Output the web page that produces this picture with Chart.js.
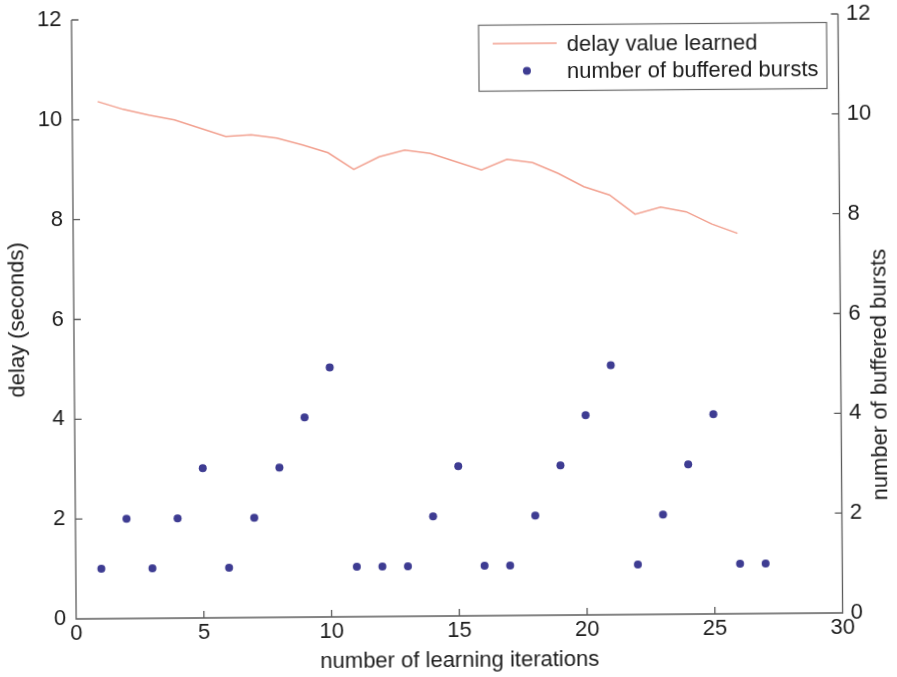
<!DOCTYPE html>
<html>
<head>
<meta charset="utf-8">
<script src="https://cdn.jsdelivr.net/npm/chart.js@4.4.0/dist/chart.umd.min.js"></script>
<style>
  html, body { margin: 0; padding: 0; background: #ffffff; overflow: hidden; }
  #wrap { width: 897px; height: 677px; position: relative; }
  /* the scanned figure sits slightly tilted on the page */
  #c { display: block; transform: rotate(-0.45deg); }
</style>
</head>
<body>
<div id="wrap"><canvas id="c" width="897" height="677"></canvas></div>
<script>
// learning run: delay value after each iteration
const iterations = [1, 2, 3, 4, 5, 6, 7, 8, 9, 10, 11, 12, 13, 14, 15, 16, 17, 18, 19, 20, 21, 22, 23, 24, 25, 26];
const delayLearned = [10.36, 10.20, 10.08, 9.98, 9.81, 9.64, 9.67, 9.60, 9.46, 9.30, 8.96, 9.21, 9.34, 9.27, 9.10, 8.93, 9.14, 9.07, 8.85, 8.58, 8.41, 8.02, 8.16, 8.06, 7.81, 7.62];

// bursts held in the buffer at each iteration
const burstIterations = [1, 2, 3, 4, 5, 6, 7, 8, 9, 10, 11, 12, 13, 14, 15, 16, 17, 18, 19, 20, 21, 22, 23, 24, 25, 26, 27];
const bufferedBursts = [1, 2, 1, 2, 3, 1, 2, 3, 4, 5, 1, 1, 1, 2, 3, 1, 1, 2, 3, 4, 5, 1, 2, 3, 4, 1, 1];

// axis ticks
const xTicks = [0, 5, 10, 15, 20, 25, 30];
const delayTicks = [0, 2, 4, 6, 8, 10, 12];
const burstTicks = [0, 2, 4, 6, 8, 10, 12];

const seriesNames = ['delay value learned', 'number of buffered bursts'];
const axisTitles = { x: 'number of learning iterations', y: 'delay (seconds)', y2: 'number of buffered bursts' };

const FONT = 'Liberation Sans, Arial, Helvetica, sans-serif';
const TEXT = '#1c1c1c';
const AXIS = '#5c5c5c';
const LINE_COLOR = '#f2a190';
const DOT_COLOR = '#3e3c92';

Chart.defaults.font.family = FONT;
Chart.defaults.font.size = 22;
Chart.defaults.color = TEXT;

// box on three sides with inward tick marks, boxed legend, right axis title
const frame = {
  id: 'frame',
  afterDatasetsDraw(chart) {
    const { ctx, chartArea: a, scales } = chart;
    const L = 7;
    ctx.save();
    ctx.strokeStyle = AXIS;
    ctx.lineWidth = 1.3;
    ctx.beginPath();
    ctx.moveTo(a.left, a.top);
    ctx.lineTo(a.left, a.bottom);
    ctx.lineTo(a.right, a.bottom);
    ctx.lineTo(a.right, a.top);
    scales.x.ticks.forEach(t => {
      const px = scales.x.getPixelForValue(t.value);
      ctx.moveTo(px, a.bottom); ctx.lineTo(px, a.bottom - L);
    });
    scales.y.ticks.forEach(t => {
      const py = scales.y.getPixelForValue(t.value);
      ctx.moveTo(a.left, py); ctx.lineTo(a.left + L, py);
    });
    scales.y2.ticks.forEach(t => {
      const py = scales.y2.getPixelForValue(t.value);
      ctx.moveTo(a.right, py); ctx.lineTo(a.right - L, py);
    });
    ctx.stroke();

    // legend
    const bx = a.right - 359.5, by = a.top + 8.5, bw = 348, bh = 66;
    ctx.fillStyle = '#ffffff';
    ctx.fillRect(bx, by, bw, bh);
    ctx.strokeStyle = '#6a6a6a';
    ctx.lineWidth = 1.2;
    ctx.strokeRect(bx, by, bw, bh);
    const ds = chart.data.datasets;
    ctx.strokeStyle = ds[0].borderColor;
    ctx.lineWidth = ds[0].borderWidth;
    ctx.beginPath();
    ctx.moveTo(bx + 14, by + 18.5); ctx.lineTo(bx + 78, by + 18.5);
    ctx.stroke();
    ctx.fillStyle = ds[1].backgroundColor;
    ctx.beginPath();
    ctx.arc(bx + 48, by + 46, ds[1].pointRadius, 0, Math.PI * 2);
    ctx.fill();
    ctx.fillStyle = TEXT;
    ctx.font = '22px ' + FONT;
    ctx.textAlign = 'left';
    ctx.textBaseline = 'middle';
    ctx.fillText(ds[0].label, bx + 88, by + 20.5);
    ctx.fillText(ds[1].label, bx + 88, by + 47.5);

    // right-hand axis title, reading upward
    ctx.translate(880, 378);
    ctx.rotate(-Math.PI / 2);
    ctx.textAlign = 'center';
    ctx.fillText(axisTitles.y2, 0, 0);
    ctx.restore();
  }
};

const ticksFrom = arr => scale => { scale.ticks = arr.map(v => ({ value: v })); };
// fixed scale boxes; no extra room reserved for overhanging tick labels
const fixBox = (w, h) => s => {
  if (w !== null) s.width = w;
  if (h !== null) s.height = h;
  s.paddingTop = 0; s.paddingBottom = 0; s.paddingLeft = 0; s.paddingRight = 0;
};

new Chart(document.getElementById('c'), {
  type: 'scatter',
  data: {
    datasets: [
      {
        label: seriesNames[0],
        data: iterations.map((x, i) => ({ x, y: delayLearned[i] })),
        showLine: true,
        borderColor: LINE_COLOR,
        borderWidth: 1.5,
        pointRadius: 0,
        tension: 0,
        yAxisID: 'y'
      },
      {
        label: seriesNames[1],
        data: burstIterations.map((x, i) => ({ x, y: bufferedBursts[i] })),
        showLine: false,
        backgroundColor: DOT_COLOR,
        borderColor: DOT_COLOR,
        borderWidth: 0,
        pointRadius: 4,
        yAxisID: 'y2'
      }
    ]
  },
  options: {
    responsive: false,
    animation: false,
    events: [],
    layout: { padding: { top: 17, left: 0, right: 0, bottom: 0 } },
    plugins: { legend: { display: false }, tooltip: { enabled: false } },
    scales: {
      x: {
        type: 'linear', position: 'bottom', min: 0, max: 30,
        afterBuildTicks: ticksFrom(xTicks),
        afterFit: fixBox(null, 61),
        grid: { display: false, drawTicks: false },
        border: { display: false },
        ticks: { padding: 2, color: TEXT, font: { size: 22 } },
        title: { display: true, text: axisTitles.x, color: TEXT, font: { size: 22 }, padding: { top: 0, bottom: 3 } }
      },
      y: {
        type: 'linear', position: 'left', min: 0, max: 12,
        afterBuildTicks: ticksFrom(delayTicks),
        afterFit: fixBox(74, null),
        grid: { display: false, drawTicks: false },
        border: { display: false },
        ticks: { padding: 10, color: TEXT, font: { size: 22 } },
        title: { display: true, text: axisTitles.y, color: TEXT, font: { size: 22 }, padding: { top: 5, bottom: 0 } }
      },
      y2: {
        type: 'linear', position: 'right', min: 0, max: 12,
        afterBuildTicks: ticksFrom(burstTicks),
        afterFit: fixBox(56.5, null),
        grid: { display: false, drawTicks: false },
        border: { display: false },
        ticks: { padding: 8, color: TEXT, font: { size: 22 } }
      }
    }
  },
  plugins: [frame]
});
</script>
</body>
</html>
